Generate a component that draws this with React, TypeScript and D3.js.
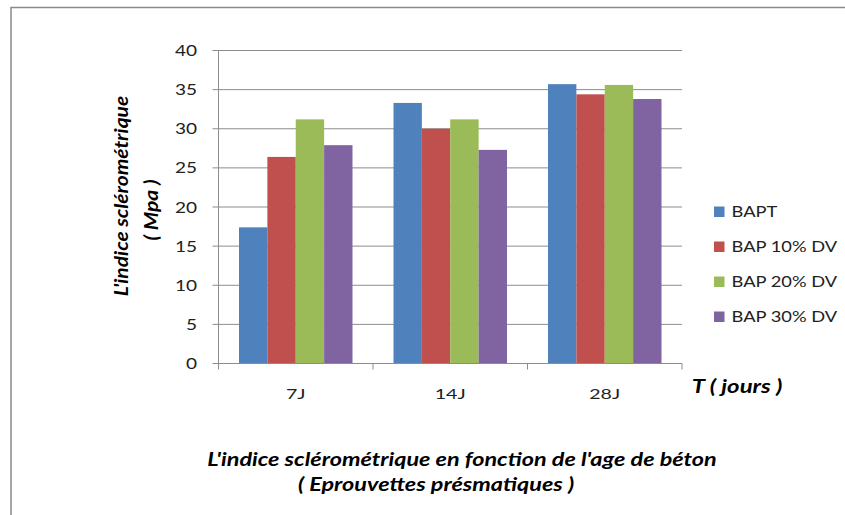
import React from "react";
import * as d3 from "d3";

const categories = ["7J", "14J", "28J"];
const seriesNames = ["BAPT", "BAP 10% DV", "BAP 20% DV", "BAP 30% DV"];
const seriesColors = ["#4F81BD", "#C0504D", "#9BBB59", "#8064A2"];
const BAPT = [17.4, 33.3, 35.7];
const BAP10 = [26.4, 30.0, 34.4];
const BAP20 = [31.2, 31.2, 35.6];
const BAP30 = [27.9, 27.3, 33.8];
const seriesValues = [BAPT, BAP10, BAP20, BAP30];
const yTicks = [0, 5, 10, 15, 20, 25, 30, 35, 40];

const W = 845;
const H = 515;
const SX = 1.27;
const FONT = "Lato, 'Open Sans', sans-serif";

function SText(props: {
  x: number;
  y: number;
  anchor?: string;
  size: number;
  weight?: string | number;
  italic?: boolean;
  fill?: string;
  rotate?: number;
  sx?: number;
  children: React.ReactNode;
}) {
  const { x, y, anchor = "start", size, weight = "normal", italic = false, fill = "#000", rotate = 0, sx = SX } = props;
  return (
    <g transform={`translate(${x},${y}) scale(${sx},1)${rotate ? ` rotate(${rotate})` : ""}`}>
      <text
        x={0}
        y={0}
        textAnchor={anchor}
        fontFamily={FONT}
        fontSize={size}
        fontWeight={weight}
        fontStyle={italic ? "italic" : "normal"}
        fill={fill}
      >
        {props.children}
      </text>
    </g>
  );
}

export default function App() {
  const left = 218.5;
  const right = 682;
  const top = 50.5;
  const bottom = 363.5;

  const x0 = d3.scaleBand<string>().domain(categories).range([left, right]).paddingInner(0).paddingOuter(0);
  const bandPad = 20.5;
  const x1 = d3
    .scaleBand<string>()
    .domain(seriesNames)
    .range([bandPad, x0.bandwidth() - bandPad])
    .padding(0);
  const y = d3.scaleLinear().domain([0, 40]).range([bottom, top]);

  const boundaries = [left, ...categories.map((c) => (x0(c) as number) + x0.bandwidth())];
  const gridColor = "#8c8c8c";

  return (
    <svg
      width={W}
      height={H}
      viewBox={`0 0 ${W} ${H}`}
      style={{ position: "absolute", left: 0, top: 0, background: "#fff" }}
    >
      <rect x={0} y={0} width={W} height={H} fill="#fff" />
      {/* outer chart border */}
      <rect x={11} y={7.5} width={W + 20} height={H + 20} fill="none" stroke="#8a8a8a" strokeWidth={1.5} />

      {/* gridlines and y ticks */}
      {yTicks.map((t) => (
        <g key={t}>
          <line x1={left - 6} x2={right} y1={y(t)} y2={y(t)} stroke={gridColor} strokeWidth={1} />
          <SText x={197} y={y(t) + 5.5} anchor="end" size={15} fill="#222">
            {t}
          </SText>
        </g>
      ))}

      {/* bars */}
      {categories.map((c, ci) => (
        <g key={c} transform={`translate(${x0(c)},0)`}>
          {seriesNames.map((s, si) => {
            const v = seriesValues[si][ci];
            return (
              <rect
                key={s}
                x={x1(s) as number}
                y={y(v)}
                width={x1.bandwidth()}
                height={bottom - y(v)}
                fill={seriesColors[si]}
              />
            );
          })}
        </g>
      ))}

      {/* axes */}
      <line x1={left} x2={left} y1={top} y2={bottom} stroke={gridColor} strokeWidth={1} />
      <line x1={left} x2={right} y1={bottom} y2={bottom} stroke={gridColor} strokeWidth={1} />
      {boundaries.map((b, i) => (
        <line key={i} x1={b} x2={b} y1={bottom} y2={bottom + 6} stroke={gridColor} strokeWidth={1} />
      ))}

      {/* category labels */}
      {categories.map((c) => (
        <SText key={c} x={(x0(c) as number) + x0.bandwidth() / 2} y={398.5} anchor="middle" size={14} fill="#222" sx={1.4}>
          {c}
        </SText>
      ))}

      {/* axis titles */}
      <SText x={737} y={392.5} anchor="middle" size={18} weight="bold" italic sx={1.33}>
        T ( jours )
      </SText>
      <SText x={128} y={196} anchor="middle" size={21} weight="bold" italic rotate={-90} sx={0.92}>
        L'indice sclérométrique
      </SText>
      <SText x={158} y={210} anchor="middle" size={21} weight="bold" italic rotate={-90} sx={0.92}>
        ( Mpa )
      </SText>

      {/* chart title at bottom */}
      <SText x={462} y={466} anchor="middle" size={18} weight="bold" italic sx={1.3}>
        L'indice sclérométrique en fonction de l'age de béton
      </SText>
      <SText x={436} y={491} anchor="middle" size={18} weight="bold" italic sx={1.3}>
        ( Eprouvettes présmatiques )
      </SText>

      {/* legend */}
      {seriesNames.map((s, i) => (
        <g key={s}>
          <rect x={714} y={206.5 + i * 35} width={10.5} height={10.5} fill={seriesColors[i]} />
          <SText x={731.5} y={217 + i * 35} size={15} fill="#222" sx={1.22}>
            {s}
          </SText>
        </g>
      ))}
    </svg>
  );
}
